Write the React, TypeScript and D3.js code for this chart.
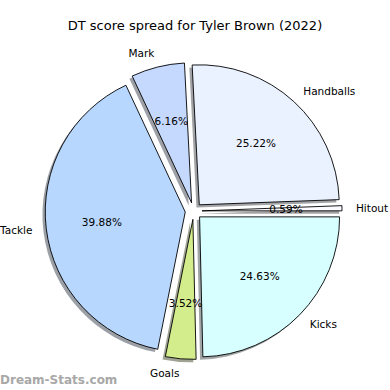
import * as d3 from "d3"

const categories = ["Hitout", "Handballs", "Mark", "Tackle", "Goals", "Kicks"]
const values = [0.59, 25.22, 6.16, 39.88, 3.52, 24.63]
const colors = ["#fafaff", "#eaf1ff", "#c5d9ff", "#b8d7ff", "#d3ec8c", "#d8ffff"]
const title = "DT score spread for Tyler Brown (2022)"

// matplotlib-like shadow colour: 0.3 * face colour, half transparent
function shadowColor(c: string) {
    const rgb = d3.rgb(c)
    return `rgb(${Math.round(rgb.r * 0.3)},${Math.round(rgb.g * 0.3)},${Math.round(rgb.b * 0.3)})`
}

export default function App() {
    const width = 390
    const height = 390
    const cx = 193.6
    const cy = 211
    const r = 140
    const explode = 8.4

    // start at 3 o'clock, counter clockwise
    const pie = d3.pie<number>()
        .sort(null)
        .startAngle(Math.PI / 2)
        .endAngle(Math.PI / 2 - 2 * Math.PI)
    const arcs = pie(values)

    const arc = d3.arc<d3.PieArcDatum<number>>()
        .innerRadius(0)
        .outerRadius(r)

    const total = d3.sum(values)

    const slices = arcs.map((a, i) => {
        const mid = (a.startAngle + a.endAngle) / 2
        const dx = Math.sin(mid)
        const dy = -Math.cos(mid)
        return { a, i, dx, dy, tx: cx + explode * dx, ty: cy + explode * dy }
    })

    return (
        <svg width={width} height={height} style={{ position: "absolute", left: 0, top: 0 }}
            fontFamily="DejaVu Sans, sans-serif">
            <rect width={width} height={height} fill="white" />
            <text x={195} y={25} textAnchor="middle" dominantBaseline="central" fontSize={13}>{title}</text>

            {slices.map(s => (
                <path key={"sh" + s.i}
                    d={arc(s.a) || ""}
                    transform={`translate(${s.tx - 2.8},${s.ty + 2.8})`}
                    fill={shadowColor(colors[s.i])}
                    fillOpacity={0.5} />
            ))}

            {slices.map(s => (
                <path key={"w" + s.i}
                    d={arc(s.a) || ""}
                    transform={`translate(${s.tx},${s.ty})`}
                    fill={colors[s.i]}
                    stroke="black"
                    strokeWidth={0.9}
                    strokeLinejoin="round" />
            ))}

            {slices.map(s => (
                <text key={"l" + s.i}
                    x={s.tx + 1.1 * r * s.dx}
                    y={s.ty + 1.1 * r * s.dy}
                    textAnchor={s.dx < 0 ? "end" : "start"}
                    dominantBaseline="central" fontSize={10.5}>
                    {categories[s.i]}
                </text>
            ))}

            {slices.map(s => (
                <text key={"p" + s.i}
                    x={s.tx + 0.6 * r * s.dx}
                    y={s.ty + 0.6 * r * s.dy}
                    textAnchor="middle" dominantBaseline="central" fontSize={10.5}>
                    {(values[s.i] / total * 100).toFixed(2) + "%"}
                </text>
            ))}

            <text x={0} y={380} dominantBaseline="central" fontSize={12} fill="#a8a8a8" fontWeight="bold">Dream-Stats.com</text>
        </svg>
    )
}
